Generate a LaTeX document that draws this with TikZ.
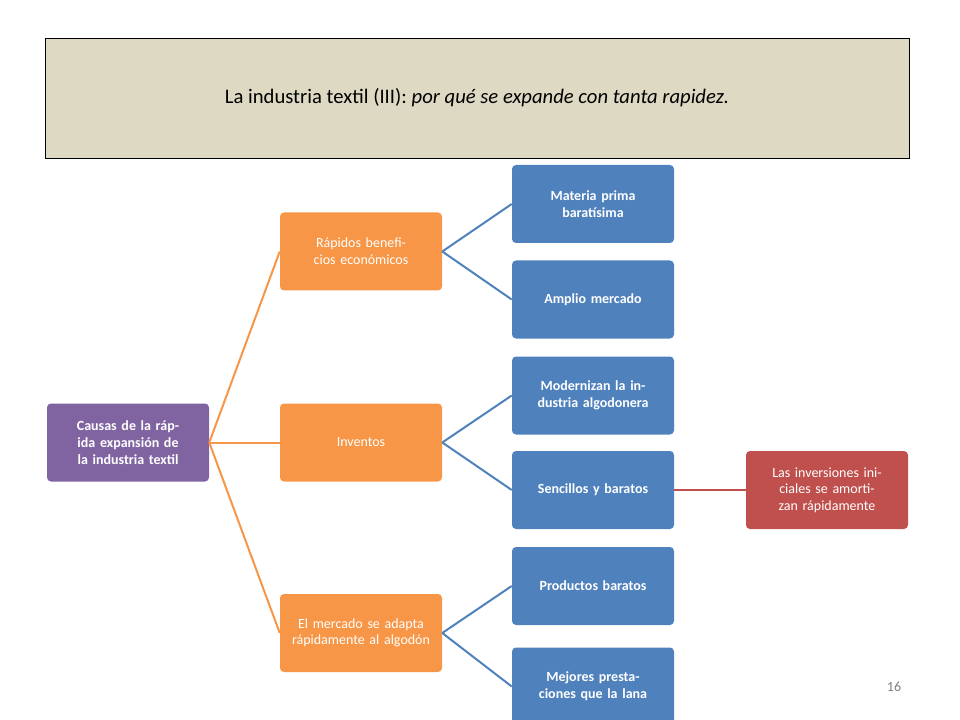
\documentclass[tikz,border=0pt]{standalone}
\usepackage{fontspec}
\setmainfont{Carlito}
\definecolor{titfill}{HTML}{DDD9C3}
\definecolor{cpur}{HTML}{8064A2}
\definecolor{corg}{HTML}{F79646}
\definecolor{cblu}{HTML}{4F81BD}
\definecolor{cred}{HTML}{C0504D}
\begin{document}
\begin{tikzpicture}[x=0.75pt,y=-0.75pt,
  box/.style={rounded corners=3pt,minimum width=121.5pt,minimum height=58.5pt,text width=112pt,align=center,text=white,font=\fontsize{10.5}{12.5}\selectfont,inner sep=2pt},
  pur/.style={box,fill=cpur,font=\fontsize{10.5}{12.5}\selectfont\bfseries},
  org/.style={box,fill=corg},
  blu/.style={box,fill=cblu,font=\fontsize{10.5}{12.5}\selectfont\bfseries},
  red/.style={box,fill=cred},
  lo/.style={corg,line width=1.5pt},
  lb/.style={cblu,line width=1.5pt},
  lr/.style={cred,line width=1.5pt}]
\useasboundingbox (0,0) rectangle (960,720);
\node[draw=black,fill=titfill,minimum width=648pt,minimum height=90pt,inner sep=0pt,font=\fontsize{15.5}{18}\selectfont] (title) at (477,98) {La industria textil (III): \textit{por qué se expande con tanta rapidez.}};
\node[pur] (root) at (128,442.5) {Causas de la rápida expansión de la industria textil};
\node[org] (rap) at (361,251.5) {Rápidos beneficios económicos};
\node[org] (inv) at (361,442.5) {Inventos};
\node[org] (mer) at (361,633) {El mercado se adapta rápidamente al algodón};
\node[blu] (mat) at (593,204) {Materia prima baratísima};
\node[blu] (amp) at (593,299.5) {Amplio mercado};
\node[blu] (mod) at (593,395.5) {Modernizan la industria algodonera};
\node[blu] (sen) at (593,490) {Sencillos y baratos};
\node[blu] (pro) at (593,586) {Productos baratos};
\node[blu] (mej) at (593,686.5) {Mejores prestaciones que la lana};
\node[red] (las) at (827,490) {Las inversiones iniciales se amortizan rápidamente};
\node[text=gray,font=\fontsize{10.5}{12}\selectfont] (pg) at (894,687) {16};
\foreach \c in {rap,inv,mer} \draw[lo] (root.east) -- (\c.west);
\draw[lb] (rap.east) -- (mat.west); \draw[lb] (rap.east) -- (amp.west);
\draw[lb] (inv.east) -- (mod.west); \draw[lb] (inv.east) -- (sen.west);
\draw[lb] (mer.east) -- (pro.west); \draw[lb] (mer.east) -- (mej.west);
\draw[lr] (sen.east) -- (las.west);
\end{tikzpicture}
\end{document}
